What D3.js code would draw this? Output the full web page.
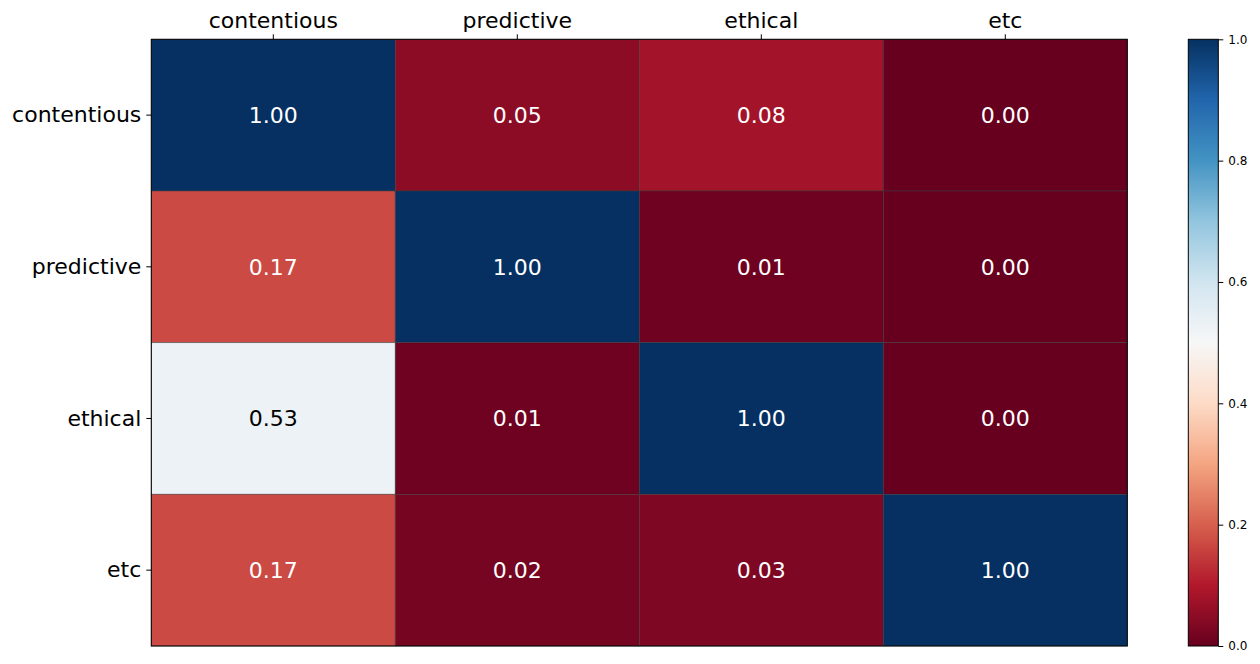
<!DOCTYPE html>
<html>
<head>
<meta charset="utf-8">
<script src="https://cdn.jsdelivr.net/npm/d3@7"></script>
<style>
  html, body { margin: 0; padding: 0; background: #fff; }
  svg { display: block; font-family: "DejaVu Sans", sans-serif; }
</style>
</head>
<body>
<svg id="chart" width="1260" height="664"></svg>
<script>
// categories (rows and columns share them)
const categories = ["contentious", "predictive", "ethical", "etc"];

// matrix values, one array per row
const rowContentious = [1.00, 0.05, 0.08, 0.00];
const rowPredictive  = [0.17, 1.00, 0.01, 0.00];
const rowEthical     = [0.53, 0.01, 1.00, 0.00];
const rowEtc         = [0.17, 0.02, 0.03, 1.00];
const rows = [rowContentious, rowPredictive, rowEthical, rowEtc];

// colorbar ticks
const colorbarTicks = [0.0, 0.2, 0.4, 0.6, 0.8, 1.0];

// RdBu (brewer) anchors, linearly interpolated like matplotlib
const rdbu = ["#67001f", "#b2182b", "#d6604d", "#f4a582", "#fddbc7", "#f7f7f7",
              "#d1e5f0", "#92c5de", "#4393c3", "#2166ac", "#053061"];

const svg = d3.select("#chart");

const plot = { left: 151.3, right: 1127.3, top: 39.3, bottom: 646 };
const cbar = { left: 1188.3, right: 1218.3 };

const x = d3.scaleBand()
    .domain(categories)
    .range([plot.left, plot.right]);
const y = d3.scaleBand()
    .domain(categories)
    .range([plot.top, plot.bottom]);

const color = d3.scaleLinear()
    .domain(rdbu.map((d, i) => i / (rdbu.length - 1)))
    .range(rdbu)
    .interpolate(d3.interpolateRgb)
    .clamp(true);

const cells = [];
rows.forEach((r, i) => r.forEach((v, j) => cells.push({ row: categories[i], col: categories[j], value: v })));

// cells
svg.append("g")
  .selectAll("rect")
  .data(cells)
  .join("rect")
    .attr("x", d => x(d.col))
    .attr("y", d => y(d.row))
    .attr("width", x.bandwidth())
    .attr("height", y.bandwidth())
    .attr("fill", d => color(d.value))
    .attr("stroke", "#3a3a3a")
    .attr("stroke-opacity", 0.6)
    .attr("stroke-width", 0.8);

// annotations
svg.append("g")
  .selectAll("text")
  .data(cells)
  .join("text")
    .attr("x", d => x(d.col) + x.bandwidth() / 2)
    .attr("y", d => y(d.row) + y.bandwidth() / 2)
    .attr("dy", "0.36em")
    .attr("text-anchor", "middle")
    .attr("font-size", "22px")
    .attr("fill", d => Math.abs(d.value - 0.5) < 0.25 ? "#000" : "#fff")
    .text(d => d.value.toFixed(2));

// frame
svg.append("rect")
    .attr("x", plot.left)
    .attr("y", plot.top)
    .attr("width", plot.right - plot.left)
    .attr("height", plot.bottom - plot.top)
    .attr("fill", "none")
    .attr("stroke", "#000")
    .attr("stroke-width", 1);

// top axis
svg.append("g")
    .attr("transform", `translate(0,${plot.top})`)
    .call(d3.axisTop(x).tickSize(5).tickPadding(6).tickSizeOuter(0))
    .call(g => g.select(".domain").remove())
    .call(g => g.selectAll("text").attr("font-size", "22px").attr("font-family", "DejaVu Sans").attr("fill", "#000"));

// left axis
svg.append("g")
    .attr("transform", `translate(${plot.left},0)`)
    .call(d3.axisLeft(y).tickSize(5).tickPadding(5).tickSizeOuter(0))
    .call(g => g.select(".domain").remove())
    .call(g => g.selectAll("text").attr("font-size", "22px").attr("font-family", "DejaVu Sans").attr("fill", "#000"));

// colorbar
const defs = svg.append("defs");
const grad = defs.append("linearGradient")
    .attr("id", "cbgrad")
    .attr("x1", 0).attr("y1", 1).attr("x2", 0).attr("y2", 0);
grad.selectAll("stop")
  .data(d3.range(0, 1.0001, 0.02))
  .join("stop")
    .attr("offset", d => d)
    .attr("stop-color", d => color(d));

const cy = d3.scaleLinear().domain([0, 1]).range([plot.bottom, plot.top]);

svg.append("rect")
    .attr("x", cbar.left)
    .attr("y", plot.top)
    .attr("width", cbar.right - cbar.left)
    .attr("height", plot.bottom - plot.top)
    .attr("fill", "url(#cbgrad)")
    .attr("stroke", "#000")
    .attr("stroke-width", 1);

svg.append("g")
    .attr("transform", `translate(${cbar.right},0)`)
    .call(d3.axisRight(cy).tickValues(colorbarTicks).tickFormat(d3.format(".1f")).tickSize(5).tickPadding(5))
    .call(g => g.select(".domain").remove())
    .call(g => g.selectAll("text").attr("font-size", "12px").attr("font-family", "DejaVu Sans").attr("fill", "#000"));
</script>
</body>
</html>
